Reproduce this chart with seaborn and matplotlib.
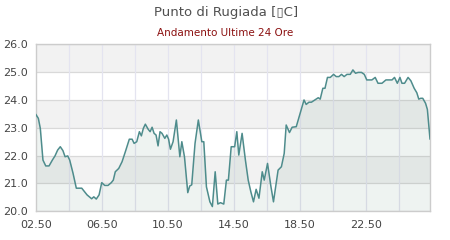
import matplotlib
matplotlib.use("Agg")
import matplotlib.pyplot as plt
import seaborn as sns
import pandas as pd
import numpy as np

# hours elapsed since 02:50
hours = [0.00, 0.16, 0.28, 0.44, 0.61, 0.81, 1.01, 1.17, 1.33, 1.49, 1.65, 1.78, 1.94, 2.06,
         2.26, 2.46, 2.79, 2.87, 3.11, 3.39, 3.52, 3.67, 3.84, 4.00, 4.18, 4.38, 4.58, 4.70,
         4.82, 5.03, 5.23, 5.43, 5.67, 5.84, 5.96, 6.12, 6.28, 6.40, 6.52, 6.64, 6.81, 6.93,
         7.05, 7.17, 7.29, 7.41, 7.53, 7.65, 7.82, 7.94, 8.05, 8.16, 8.32, 8.52, 8.73, 8.85,
         9.01, 9.21, 9.33, 9.45, 9.65, 9.85, 10.06, 10.18, 10.34, 10.55, 10.70, 10.87, 11.03,
         11.19, 11.39, 11.55, 11.67, 11.84, 12.05, 12.18, 12.30, 12.50, 12.70, 12.87, 13.03,
         13.19, 13.35, 13.52, 13.72, 13.84, 14.04, 14.24, 14.40, 14.68, 14.88, 15.05, 15.17,
         15.37, 15.53, 15.78, 15.94, 16.25, 16.38, 16.55, 16.70, 16.91, 17.11, 17.23, 17.39,
         17.52, 17.67, 17.84, 18.04, 18.20, 18.36, 18.52, 18.68, 18.85, 19.05, 19.21, 19.37,
         19.53, 19.73, 19.90, 20.05, 20.36, 20.56, 20.73, 20.97, 21.21, 21.58, 21.73, 21.90,
         22.06, 22.18, 22.34, 22.55, 22.72, 22.92, 23.08, 23.20, 23.32, 23.44, 23.61, 23.72,
         23.88]
dew_point = [23.49, 23.34, 22.98, 21.84, 21.63, 21.63, 21.84, 21.99, 22.20, 22.32, 22.18, 21.96,
             21.99, 21.84, 21.37, 20.83, 20.83, 20.77, 20.59, 20.45, 20.52, 20.44, 20.59, 21.03,
             20.93, 20.93, 21.03, 21.12, 21.42, 21.54, 21.78, 22.14, 22.59, 22.59, 22.44, 22.50,
             22.86, 22.71, 22.98, 23.13, 22.95, 22.86, 23.02, 22.80, 22.74, 22.35, 22.86, 22.80,
             22.62, 22.74, 22.59, 22.23, 22.50, 23.28, 21.96, 22.50, 21.96, 20.67, 20.91, 20.95,
             22.44, 23.28, 22.50, 22.50, 20.88, 20.34, 20.17, 21.42, 20.26, 20.31, 20.26, 21.12,
             21.12, 22.32, 22.32, 22.86, 22.02, 22.80, 21.84, 21.12, 20.70, 20.34, 20.79, 20.47,
             21.42, 21.12, 21.72, 20.91, 20.34, 21.48, 21.60, 22.08, 23.10, 22.83, 23.02, 23.04,
             23.37, 24.00, 23.84, 23.92, 23.92, 24.00, 24.08, 24.03, 24.42, 24.42, 24.81, 24.81,
             24.92, 24.84, 24.84, 24.92, 24.84, 24.92, 24.92, 25.08, 24.96, 24.99, 24.99, 24.92,
             24.72, 24.72, 24.81, 24.60, 24.60, 24.72, 24.72, 24.81, 24.60, 24.81, 24.60, 24.60,
             24.81, 24.69, 24.42, 24.26, 24.03, 24.06, 24.06, 23.88, 23.66, 22.59]

tick_hours = [0, 4, 8, 12, 16, 20]
tick_labels = ["02.50", "06.50", "10.50", "14.50", "18.50", "22.50"]
y_ticks = [20, 21, 22, 23, 24, 25, 26]

title = "Punto di Rugiada [\u25af\u0043]"
subtitle = "Andamento Ultime 24 Ore"

df = pd.DataFrame({"hours": hours, "dew": dew_point})

sns.set_style("white")
plt.rcParams["font.family"] = ["DejaVu Sans"]

fig = plt.figure(figsize=(4.5, 2.4), dpi=100)
ax = fig.add_axes([0.0793, 0.1196, 0.9556 - 0.0793, 0.8154 - 0.1196])

# alternating horizontal bands
for lo in [21, 23, 25]:
    ax.axhspan(lo, lo + 1, color="#f2f2f2", zorder=0, lw=0)

for yv in y_ticks:
    ax.axhline(yv, color="#d9d9d9", lw=0.9, zorder=1)
for xv in range(2, 24, 2):
    ax.axvline(xv, color="#e4e4f0", lw=0.9, zorder=1)

ax.fill_between(df["hours"], df["dew"], 20, color="#4a7a6a", alpha=0.09, lw=0, zorder=2)
sns.lineplot(data=df, x="hours", y="dew", ax=ax, color="#4e8c8c", lw=1.1, zorder=3)

ax.set_xlim(0, hours[-1])
ax.set_ylim(20, 26)
ax.set_xticks(tick_hours)
ax.set_xticklabels(tick_labels)
ax.set_yticks(y_ticks)
ax.set_yticklabels([f"{v:.1f}" for v in y_ticks])
ax.set_xlabel("")
ax.set_ylabel("")
ax.tick_params(axis="both", length=0, labelsize=8, colors="#444444")
ax.tick_params(axis="x", pad=6)
ax.tick_params(axis="y", pad=5.3)
for s in ax.spines.values():
    s.set_color("#cccccc")
    s.set_linewidth(1.0)
    s.set_visible(True)

fig.text(0.503, 0.946, title, ha="center", va="center", fontsize=9.5, color="#505050")
fig.text(0.5, 0.8625, subtitle, ha="center", va="center", fontsize=7.5, color="#8b1010")

fig.savefig("out.png", dpi=100)
